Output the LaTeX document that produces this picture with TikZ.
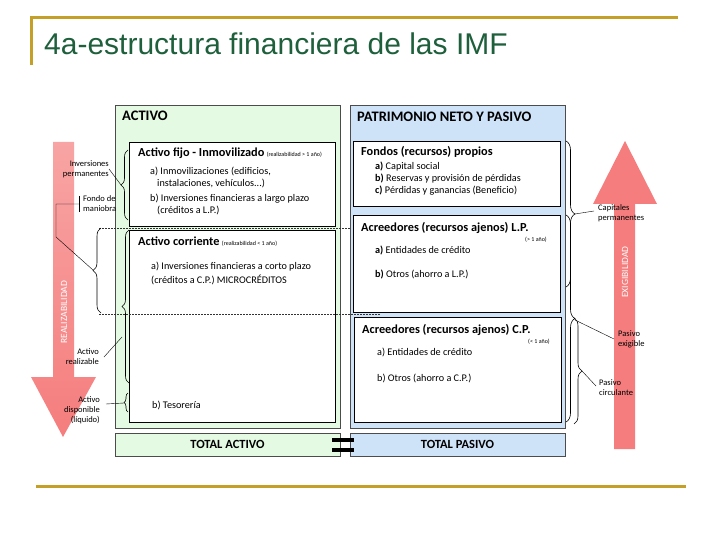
\documentclass[tikz,border=0pt]{standalone}
\usepackage{fontspec}
\setmainfont{Carlito}
\newfontfamily\titlefont{Liberation Sans}
\usetikzlibrary{decorations.pathreplacing}
\definecolor{gold}{RGB}{196,160,40}
\definecolor{titlegreen}{RGB}{30,95,60}
\definecolor{actgreen}{RGB}{228,250,226}
\definecolor{pasblue}{RGB}{206,226,248}
\definecolor{arrowred}{RGB}{245,125,125}
\tikzset{
    brc/.style={decorate,decoration={brace,amplitude=#1},line width=0.6pt},
    brc/.default=7pt,
    outer/.style={draw=black!70,line width=0.6pt},
    inner/.style={draw,fill=white,line width=0.8pt},
    limit/.style={dash pattern=on 1.5pt off 1.5pt,line width=0.7pt,black!80},
    headtxt/.style={anchor=base west,inner sep=0pt,font=\bfseries\fontsize{14.5}{16}\selectfont},
    boxtxt/.style={anchor=base west,inner sep=0pt,font=\bfseries\fontsize{12.3}{14}\selectfont},
    itemtxt/.style={anchor=base west,inner sep=0pt,font=\fontsize{10.2}{12}\selectfont},
    notetxt/.style={anchor=base west,inner sep=0pt,font=\fontsize{6}{7}\selectfont},
    sidetxt/.style={inner sep=0pt,font=\fontsize{8.5}{10}\selectfont},
    arrowtxt/.style={rotate=90,text=white,font=\fontsize{9.5}{11}\selectfont},
    totbox/.style={outer,minimum height=23pt,font=\bfseries\fontsize{12.5}{14}\selectfont},
}
\begin{document}
\begin{tikzpicture}[x=1pt,y=-1pt]
    \useasboundingbox (0,0) rectangle (720,540);
    %% title and frame lines
    \draw[gold,line width=3pt] (31,65) -- (31,18) -- (678,18);
    \draw[gold,line width=3pt] (36,486) -- (686,486);
    \node[anchor=base west,inner sep=0pt,text=titlegreen,font=\titlefont\fontsize{30}{33}\selectfont] (titulo) at (44,55) {4a-estructura financiera de las IMF};
    %% big arrows
    \shade[top color=arrowred!70,bottom color=arrowred] (53,142) -- (74,142) -- (74,377) -- (96,377) -- (63,437) -- (31,377) -- (53,377) -- cycle;
    \fill[arrowred] (614,449) -- (635,449) -- (635,204) -- (657,204) -- (625,141) -- (593,204) -- (614,204) -- cycle;
    \node[arrowtxt] (realiz) at (64,312) {REALIZABILIDAD};
    \node[arrowtxt] (exig) at (625,272) {EXIGIBILIDAD};
    %% activo
    \draw[outer,fill=actgreen] (115,105) rectangle (340,428);
    \draw[inner] (129,142) rectangle (335,226);
    \draw[inner] (129,230) rectangle (335,422);
    \node[headtxt] (activo) at (122,121) {ACTIVO};
    \node[boxtxt] (fijo) at (138,157) {Activo fijo - Inmovilizado};
    \node[notetxt,xshift=2pt] (fijonota) at (fijo.base east) {(realizabilidad > 1 año)};
    \foreach \x/\y/\t [count=\i] in {150/175/{a) Inmovilizaciones (edificios,},157/187/{instalaciones, vehículos...)},150/202/{b) Inversiones financieras a largo plazo},157/214/{(créditos a L.P.)}}
        \node[itemtxt] (fijo\i) at (\x,\y) {\t};
    \node[boxtxt] (corr) at (138,245) {Activo corriente};
    \node[notetxt,xshift=2pt] (corrnota) at (corr.base east) {(realizabilidad < 1 año)};
    \foreach \x/\y/\t [count=\i] in {151/269/{a) Inversiones financieras a corto plazo},151/283/{(créditos a C.P.) MICROCRÉDITOS},152/408/{b) Tesorería}}
        \node[itemtxt] (corr\i) at (\x,\y) {\t};
    \node[totbox,fill=actgreen,minimum width=225pt] (totact) at (227.5,444.5) {TOTAL ACTIVO};
    %% patrimonio neto y pasivo
    \draw[outer,fill=pasblue] (350,105) rectangle (565,428);
    \draw[inner] (353,141) rectangle (560,206);
    \draw[inner] (353,215) rectangle (560,312);
    \draw[inner] (354,317) rectangle (561,422);
    \node[headtxt] (pasivo) at (357,122) {PATRIMONIO NETO Y PASIVO};
    \node[boxtxt] (propios) at (361,156) {Fondos (recursos) propios};
    \foreach \y/\l/\t [count=\i] in {170/a/{Capital social},182/b/{Reservas y provisión de pérdidas},194/c/{Pérdidas y ganancias (Beneficio)}}
        \node[itemtxt] (propios\i) at (375,\y) {\textbf{\l)} \t};
    \node[boxtxt] (lp) at (361,232) {Acreedores (recursos ajenos) L.P.};
    \node[notetxt] (lpnota) at (525,241) {(> 1 año)};
    \node[itemtxt] (lp1) at (375,253) {\textbf{a)} Entidades de crédito};
    \node[itemtxt] (lp2) at (375,277) {\textbf{b)} Otros (ahorro a L.P.)};
    \node[boxtxt] (cp) at (362,333) {Acreedores (recursos ajenos) C.P.};
    \node[notetxt] (cpnota) at (528,343) {(< 1 año)};
    \node[itemtxt] (cp1) at (377,355) {a) Entidades de crédito};
    \node[itemtxt] (cp2) at (377,381) {b) Otros (ahorro a C.P.)};
    \node[totbox,fill=pasblue,minimum width=215pt] (totpas) at (457.5,444.5) {TOTAL PASIVO};
    %% equal sign
    \foreach \y in {440,450} \draw[line width=4pt] (332,\y) -- (354,\y);
    %% dotted limits of the fondo de maniobra
    \draw[limit] (99,228) -- (350,228);
    \draw[limit] (99,314) -- (380,314);
    %% braces, left
    \draw[brc] (128,220) -- (128,150);
    \draw[brc=8pt] (101,313) -- (101,228);
    \draw[brc] (129,383) -- (129,230);
    \draw[brc=4pt] (128,412) -- (128,393);
    \coordinate (fijot) at (121,185);
    \coordinate (fondot) at (93,270);
    \coordinate (realt) at (122,337);
    \coordinate (dispt) at (124,403);
    %% braces, right
    \draw[brc=9pt] (566,141) -- (566,287);
    \draw[brc=9pt] (566,215) -- (566,422);
    \draw[brc=8pt] (574,318) -- (574,424);
    \coordinate (capt) at (575,214);
    \coordinate (exigt) at (575,320);
    \coordinate (circt) at (582,371);
    %% side labels
    \node[sidetxt,anchor=east,align=right] (invl) at (109,169) {Inversiones\\permanentes};
    \node[sidetxt,anchor=west,align=left] (fondol) at (83,204) {Fondo de\\maniobra};
    \node[sidetxt,anchor=east,align=right] (reall) at (99,357) {Activo\\realizable};
    \node[sidetxt,anchor=east,align=right] (displ) at (100,410) {Activo\\disponible\\(líquido)};
    \node[sidetxt,anchor=west,align=left] (capl) at (598,213) {Capitales\\permanentes};
    \node[sidetxt,anchor=west,align=left] (exigl) at (618,339) {Pasivo\\exigible};
    \node[sidetxt,anchor=west,align=left] (circl) at (599,388) {Pasivo\\circulante};
    %% connectors
    \draw[thin] (invl.east) -- (fijot);
    \draw[thin] ([xshift=-4pt]fondol.north west) -- ([xshift=-4pt]fondol.south west);
    \draw[thin] ([xshift=-4pt]fondol.west) -- ++(-23,0) -- ++(0,33) -- (fondot);
    \draw[thin] ([xshift=5pt]reall.east) -- (realt);
    \draw[thin] ([xshift=6pt,yshift=6pt]displ.east) -- (dispt);
    \draw[thin] (capt) -- ([xshift=-4pt,yshift=2pt]capl.west);
    \draw[thin] (exigt) -- ([xshift=-4pt]exigl.west);
    \draw[thin] (circt) -- ([xshift=-3pt,yshift=2pt]circl.west);
\end{tikzpicture}
\end{document}
